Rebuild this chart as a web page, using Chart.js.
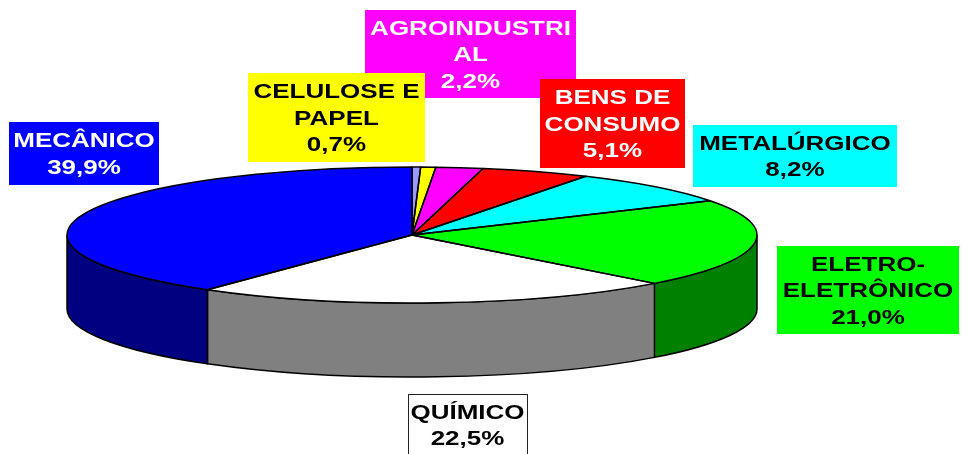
<!DOCTYPE html>
<html lang="pt">
<head>
<meta charset="UTF-8">
<title>Setores</title>
<script src="https://cdn.jsdelivr.net/npm/chart.js"></script>
<style>
  html, body { margin: 0; padding: 0; background: #fff; }
  canvas { display: block; }
</style>
</head>
<body>
<canvas id="pie" width="965" height="454"></canvas>
<script>
// data, clockwise from 12 o'clock
const sectors = ['OUTROS', 'CELULOSE E PAPEL', 'AGROINDUSTRIAL', 'BENS DE CONSUMO', 'METALÚRGICO', 'ELETRO-ELETRÔNICO', 'QUÍMICO', 'MECÂNICO'];
const shares = [0.4, 0.7, 2.2, 5.1, 8.2, 21.0, 22.5, 39.9];
const labelLines = [[], ['CELULOSE E', 'PAPEL'], ['AGROINDUSTRI', 'AL'], ['BENS DE', 'CONSUMO'], ['METALÚRGICO'], ['ELETRO-', 'ELETRÔNICO'], ['QUÍMICO'], ['MECÂNICO']];

// styles
const sliceColors = ['#9999FF', '#FFFF00', '#FF00FF', '#FF0000', '#00FFFF', '#00FF00', '#FFFFFF', '#0000FF'];
const sideColors = ['#4C4C80', '#808000', '#800080', '#800000', '#008080', '#008000', '#808080', '#000080'];
const textColors = ['#000', '#000', '#fff', '#fff', '#000', '#000', '#000', '#fff'];

// 3d geometry
const CX = 412, CY = 235, RX = 345, RY = 68, DEPTH = 74;

// label boxes
const boxes = [
  null,
  { x: 248, y: 73, w: 177, h: 89 },
  { x: 365, y: 10, w: 211, h: 88 },
  { x: 540, y: 79, w: 145, h: 89 },
  { x: 693, y: 125, w: 204, h: 62 },
  { x: 777, y: 246, w: 182, h: 88 },
  { x: 408, y: 394, w: 119, h: 62, border: true },
  { x: 9, y: 122, w: 150, h: 63 }
];
const drawOrder = [2, 1, 3, 4, 5, 6, 7];
const LINE = 26.5;
const STRETCH = 1.3;

function pct(v) {
  return v.toFixed(1).replace('.', ',') + '%';
}

const pie3d = {
  id: 'pie3d',
  beforeDatasetsDraw(chart) {
    const ctx = chart.ctx;
    const arcs = chart.getDatasetMeta(0).data;
    const k = RY / RX;
    const cx = arcs[0].x, R = arcs[0].outerRadius, ry = R * k;

    // side walls (front half only)
    ctx.save();
    ctx.lineWidth = 1.5;
    ctx.strokeStyle = '#000';
    arcs.forEach((a, i) => {
      const lo = Math.max(a.startAngle, 0);
      const hi = Math.min(a.endAngle, Math.PI);
      if (hi <= lo) return;
      ctx.beginPath();
      ctx.ellipse(cx, CY, R, ry, 0, lo, hi);
      ctx.ellipse(cx, CY + DEPTH, R, ry, 0, hi, lo, true);
      ctx.closePath();
      ctx.fillStyle = sideColors[i];
      ctx.fill();
      ctx.stroke();
    });
    ctx.restore();

    // squash the top face
    ctx.save();
    ctx.translate(0, CY);
    ctx.scale(1, k);
    ctx.translate(0, -arcs[0].y);
  },
  afterDatasetsDraw(chart) {
    const ctx = chart.ctx;
    ctx.restore();
    const arcs = chart.getDatasetMeta(0).data;
    const k = RY / RX;
    const cx = arcs[0].x, R = arcs[0].outerRadius, ry = R * k;
    ctx.save();
    ctx.lineWidth = 1.5;
    ctx.strokeStyle = '#000';
    ctx.lineJoin = 'round';
    arcs.forEach(a => {
      ctx.beginPath();
      ctx.moveTo(cx, CY);
      ctx.ellipse(cx, CY, R, ry, 0, a.startAngle, a.endAngle);
      ctx.closePath();
      ctx.stroke();
    });
    ctx.restore();
  },
  afterDraw(chart) {
    const ctx = chart.ctx;
    ctx.save();
    ctx.font = 'bold 20px "Liberation Sans", Arial, sans-serif';
    ctx.textAlign = 'center';
    ctx.textBaseline = 'alphabetic';
    drawOrder.forEach(i => {
      const b = boxes[i];
      ctx.fillStyle = sliceColors[i];
      ctx.fillRect(b.x, b.y, b.w, b.h);
      if (b.border) {
        ctx.strokeStyle = '#222';
        ctx.lineWidth = 1;
        ctx.strokeRect(b.x + 0.5, b.y + 0.5, b.w, b.h);
      }
      const lines = labelLines[i].concat(pct(shares[i]));
      const n = lines.length;
      ctx.fillStyle = textColors[i];
      lines.forEach((t, j) => {
        const y = b.y + b.h / 2 + (j - (n - 1) / 2) * LINE + 7;
        ctx.save();
        ctx.translate(b.x + b.w / 2, y);
        ctx.scale(STRETCH, 1);
        ctx.fillText(t, 0, 0);
        ctx.restore();
      });
    });
    ctx.restore();
  }
};

new Chart(document.getElementById('pie'), {
  type: 'pie',
  data: {
    labels: sectors,
    datasets: [{
      data: shares,
      backgroundColor: sliceColors,
      borderWidth: 0,
      clip: false
    }]
  },
  options: {
    responsive: false,
    animation: false,
    events: [],
    radius: RX,
    layout: { padding: { left: 0, right: 965 - 2 * CX, top: 0, bottom: 0 } },
    plugins: {
      legend: { display: false },
      tooltip: { enabled: false }
    }
  },
  plugins: [pie3d]
});
</script>
</body>
</html>
